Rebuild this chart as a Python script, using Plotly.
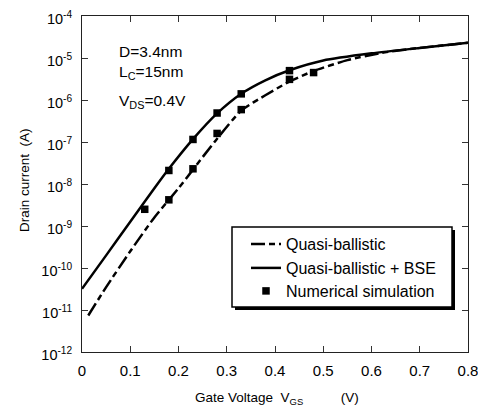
import plotly.graph_objects as go

# ---- data ----
v_qb = [0.013, 0.05, 0.10, 0.15, 0.20, 0.23, 0.28, 0.33, 0.38, 0.43, 0.48, 0.55, 0.62, 0.70, 0.80]
i_qb = [7.4e-12, 3.5e-11, 2.5e-10, 1.6e-9, 7.9e-9, 2.2e-8, 1.2e-7, 5.6e-7, 1.3e-6, 2.75e-6, 4.9e-6, 8.9e-6, 1.32e-5, 1.74e-5, 2.3e-5]

v_bse = [0.00, 0.05, 0.10, 0.15, 0.18, 0.23, 0.28, 0.33, 0.38, 0.43, 0.50, 0.60, 0.70, 0.80]
i_bse = [3.2e-11, 2.0e-10, 1.26e-9, 7.9e-9, 2.3e-8, 1.17e-7, 4.8e-7, 1.41e-6, 2.95e-6, 5.1e-6, 8.7e-6, 1.29e-5, 1.74e-5, 2.3e-5]

v_sim = [0.13, 0.18, 0.18, 0.23, 0.23, 0.28, 0.28, 0.33, 0.33, 0.43, 0.43, 0.48]
i_sim = [2.5e-9, 4.2e-9, 2.1e-8, 2.3e-8, 1.15e-7, 1.6e-7, 4.9e-7, 5.9e-7, 1.4e-6, 3.1e-6, 5.0e-6, 4.5e-6]

x_ticks = [0, 0.1, 0.2, 0.3, 0.4, 0.5, 0.6, 0.7, 0.8]
y_exps = [-12, -11, -10, -9, -8, -7, -6, -5, -4]

FONT = "Liberation Sans, Arial, sans-serif"

# the page body adds an 8px offset; work in window pixels below
OFF = 8
W, H = 486 - OFF, 414 - OFF
PL, PR, PT, PB = 82, 468, 16, 352          # plot area in window pixels
L, T = PL - OFF, PT - OFF
R, B = W - (PR - OFF), H - (PB - OFF)
PW, PH = PR - PL, PB - PT


def px(xs):
    return (xs - PL) / PW


def py(ys):
    return 1 - (ys - PT) / PH


fig = go.Figure()
fig.add_trace(go.Scatter(x=v_qb, y=i_qb, mode="lines", name="Quasi-ballistic", legend="legend",
                         line=dict(color="black", width=2.5, dash="14px,4px,6px,4px",
                                   shape="spline", smoothing=0.6)))
fig.add_trace(go.Scatter(x=v_bse, y=i_bse, mode="lines", name="Quasi-ballistic + BSE", legend="legend2",
                         line=dict(color="black", width=2.5, shape="spline", smoothing=0.6)))
fig.add_trace(go.Scatter(x=v_sim, y=i_sim, mode="markers", name="Numerical simulation", legend="legend3",
                         marker=dict(symbol="square", size=7.5, color="black")))

shapes = [
    dict(type="rect", xref="paper", yref="paper", x0=px(235), x1=px(455), y0=py(310), y1=py(230),
         fillcolor="black", line=dict(width=0), layer="above"),
    dict(type="rect", xref="paper", yref="paper", x0=px(232), x1=px(452), y0=py(307), y1=py(227),
         fillcolor="white", line=dict(color="black", width=1.5), layer="above"),
]

ann_font = dict(family=FONT, size=15.5, color="black")
annotations = [
    dict(text="D=3.4nm", x=px(117), y=py(52), xref="paper", yref="paper", xanchor="left",
         yanchor="middle", showarrow=False, font=ann_font),
    dict(text="L<sub>C</sub>=15nm", x=px(117), y=py(61), xref="paper", yref="paper", xanchor="left",
         yanchor="top", showarrow=False, font=ann_font),
    dict(text="V<sub>DS</sub>=0.4V", x=px(117), y=py(90), xref="paper", yref="paper", xanchor="left",
         yanchor="top", showarrow=False, font=ann_font),
    dict(text="Gate Voltage  V<sub>GS</sub>" + "&nbsp;" * 10 + "(V)", x=px(277), y=py(388),
         xref="paper", yref="paper", xanchor="center", yanchor="top", showarrow=False,
         font=dict(family=FONT, size=13.5, color="black")),
    dict(text="Drain current  (A)", x=px(24), y=py(180), xref="paper", yref="paper",
         xanchor="center", yanchor="middle", textangle=-90, showarrow=False,
         font=dict(family=FONT, size=13.5, color="black")),
]

leg_font = dict(family=FONT, size=16, color="black")
leg_common = dict(xanchor="left", yanchor="middle", bgcolor="rgba(0,0,0,0)", borderwidth=0,
                  font=leg_font)

fig.update_layout(
    width=W, height=H,
    margin=dict(l=L, r=R, t=T, b=B, autoexpand=False),
    paper_bgcolor="white", plot_bgcolor="white",
    font=dict(family=FONT, size=14, color="black"),
    showlegend=True,
    legend=dict(x=px(246), y=py(244), **leg_common),
    legend2=dict(x=px(246), y=py(268), **leg_common),
    legend3=dict(x=px(246), y=py(291), **leg_common),
    shapes=shapes,
    annotations=annotations,
    xaxis=dict(range=[0, 0.8], tickvals=x_ticks, ticktext=[("%g" % v) for v in x_ticks],
               ticks="inside", ticklen=6, tickcolor="#333", mirror="ticks",
               showline=True, linecolor="#222", linewidth=1, showgrid=False, zeroline=False,
               tickfont=dict(family=FONT, size=15, color="black"), ticklabelstandoff=5,
               ticklabeloverflow="allow"),
    yaxis=dict(type="log", range=[-12, -4], tickvals=[10.0 ** e for e in y_exps],
               ticktext=["10<sup>%d</sup>" % e for e in y_exps],
               ticks="inside", ticklen=6, tickcolor="#333", mirror="ticks",
               showline=True, linecolor="#222", linewidth=1, showgrid=False, zeroline=False,
               tickfont=dict(family=FONT, size=14.5, color="black"), ticklabelstandoff=6,
               ticklabelshift=3, ticklabeloverflow="allow"),
)

fig.write_html("out.html")
